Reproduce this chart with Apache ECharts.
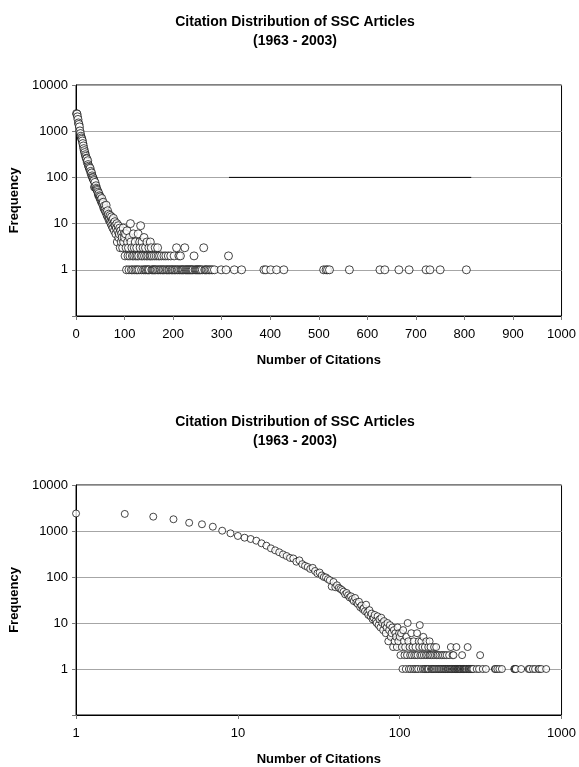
<!DOCTYPE html>
<html>
<head>
<meta charset="utf-8">
<script src="https://cdn.jsdelivr.net/npm/echarts@6/dist/echarts.min.js"></script>
<style>
  html, body { margin: 0; padding: 0; background: #fff; }
  #main { width: 579px; height: 767px; }
</style>
</head>
<body>
<div id="main"></div>
<script>
// frequency for 1..99 citations
var headFreq = [
  2400, 2350, 2050, 1800, 1510, 1400, 1240, 1015, 890, 780,
  715, 670, 615, 540, 480, 420, 380, 345, 310, 286,
  260, 253, 215, 230, 190, 175, 165, 150, 158, 135,
  120, 125, 108, 100, 98, 90, 85, 62, 78, 60,
  66, 58, 55, 52, 48, 42, 45, 40, 36, 38,
  33, 30, 35, 28, 26, 29, 22, 24, 20, 21,
  18, 25, 17, 15, 19, 14, 16, 12, 13, 15,
  11, 10, 14, 9, 12, 8, 13, 10, 7, 11,
  9, 6, 8, 10, 4, 7, 9, 5, 6, 8,
  3, 7, 4, 6, 5, 3, 8, 4, 6
];

// sparse tail (100 citations and up)
var tailCites = [
  100, 101, 102, 103, 104, 105, 106, 107, 108, 109,
  110, 111, 112, 113, 114, 115, 116, 117, 118, 119,
  120, 121, 122, 123, 124, 125, 126, 127, 128, 129,
  130, 131, 132, 133, 134, 135, 136, 137, 138, 139,
  140, 141, 142, 143, 144, 145, 146, 147, 148, 149,
  150, 151, 152, 153, 154, 155, 156, 157, 158,
  160, 161, 162, 163, 164, 165, 167, 168, 169,
  170, 172, 173, 175, 176, 178,
  180, 181, 183, 185, 186, 188,
  190, 191, 193, 195, 196, 198,
  200, 202, 203, 205, 207, 208,
  210, 212, 213, 215, 216, 218,
  220, 222, 224, 225, 227, 229,
  231, 233, 235, 237, 239,
  241, 243, 245, 247, 249,
  251, 253, 255, 257,
  260, 263, 265, 267, 269,
  272, 275, 278, 281, 285,
  299, 309, 314, 326, 341,
  387, 391, 401, 413, 428,
  510, 515, 518, 522, 563,
  626, 636, 665, 686, 721, 729, 750, 804
];
var tailFreq = [
  5, 2, 6, 3, 1, 7, 4, 2, 3, 1,
  5, 2, 10, 4, 1, 3, 2, 1, 6, 2,
  3, 1, 4, 2, 1, 3, 2, 1, 6, 2,
  1, 4, 3, 9, 2, 1, 4, 2, 3, 1,
  5, 2, 1, 3, 1, 2, 4, 1, 2, 1,
  3, 1, 2, 4, 2, 3, 1, 2, 1,
  1, 2, 1, 3, 1, 2, 1, 3, 2,
  1, 2, 1, 1, 2, 1,
  1, 2, 1, 2, 1, 1,
  2, 1, 1, 2, 1, 1,
  1, 2, 1, 1, 3, 1,
  1, 2, 1, 2, 1, 1,
  1, 1, 3, 1, 1, 1,
  1, 1, 1, 1, 1,
  1, 2, 1, 1, 1,
  1, 1, 1, 1,
  1, 3, 1, 1, 1,
  1, 1, 1, 1, 1,
  1, 1, 2, 1, 1,
  1, 1, 1, 1, 1,
  1, 1, 1, 1, 1,
  1, 1, 1, 1, 1, 1, 1, 1
];

// odd dark segment sitting on the 100 gridline of the top chart
var stubLine = [[315, 100], [814, 100]];

var xTicksLinear = [0, 1000, 100];   // min, max, step
var xTicksLog = [1, 1000];
var yTicks = [0.1, 10000];

var chartTitle = 'Citation Distribution of SSC Articles\n(1963 - 2003)';

var points = [];
for (var i = 0; i < headFreq.length; i++) {
  points.push([i + 1, headFreq[i]]);
}
for (var j = 0; j < tailCites.length; j++) {
  points.push([tailCites[j], tailFreq[j]]);
}

var font = 'Liberation Sans, Arial, sans-serif';

function yAxisFor(idx) {
  return {
    gridIndex: idx,
    type: 'log',
    logBase: 10,
    min: yTicks[0],
    max: yTicks[1],
    name: 'Frequency',
    nameLocation: 'middle',
    nameRotate: 90,
    nameGap: 50,
    nameTextStyle: { fontFamily: font, fontSize: 13, fontWeight: 'bold', color: '#000' },
    axisLine: { show: true, lineStyle: { color: '#000', width: 1 } },
    axisTick: { show: true, inside: false, length: 4, lineStyle: { color: '#777' } },
    axisLabel: {
      margin: 8,
      fontFamily: font, fontSize: 13, color: '#000',
      formatter: function (v) { return v < 0.5 ? '' : String(Math.round(v)); }
    },
    splitLine: { show: true, lineStyle: { color: '#a6a6a6', width: 1 } }
  };
}

function xAxisCommon(o) {
  o.name = 'Number of Citations';
  o.nameLocation = 'middle';
  o.nameGap = 38;
  o.nameTextStyle = { fontFamily: font, fontSize: 13, fontWeight: 'bold', color: '#000' };
  o.axisLine = { show: true, onZero: false, lineStyle: { color: '#000', width: 1 } };
  o.axisTick = { show: true, inside: false, length: 4, lineStyle: { color: '#777' } };
  o.axisLabel = {
    margin: 12, fontFamily: font, fontSize: 13, color: '#000',
    formatter: function (v) { return String(Math.round(v)); }
  };
  o.splitLine = { show: false };
  return o;
}

var titleStyle = { fontFamily: font, fontSize: 14, fontWeight: 'bold', color: '#000', lineHeight: 19 };

var option = {
  backgroundColor: '#fff',
  animation: false,
  title: [
    { text: chartTitle, left: 290, top: 8, textAlign: 'center', textStyle: titleStyle },
    { text: chartTitle, left: 290, top: 408, textAlign: 'center', textStyle: titleStyle }
  ],
  grid: [
    { left: 74, top: 85, width: 489, height: 231, show: true, borderColor: '#000', borderWidth: 1, backgroundColor: '#fff' },
    { left: 74, top: 485, width: 489, height: 231, show: true, borderColor: '#000', borderWidth: 1, backgroundColor: '#fff' }
  ],
  xAxis: [
    xAxisCommon({ gridIndex: 0, type: 'value', min: xTicksLinear[0], max: xTicksLinear[1], interval: xTicksLinear[2] }),
    xAxisCommon({ gridIndex: 1, type: 'log', logBase: 10, min: xTicksLog[0], max: xTicksLog[1] })
  ],
  yAxis: [yAxisFor(0), yAxisFor(1)],
  series: [
    {
      type: 'line',
      xAxisIndex: 0, yAxisIndex: 0,
      data: stubLine,
      symbol: 'none',
      lineStyle: { color: '#000', width: 1 },
      z: 1
    },
    {
      type: 'scatter',
      xAxisIndex: 0, yAxisIndex: 0,
      data: points,
      symbol: 'circle',
      symbolSize: 8,
      itemStyle: { color: '#fff', borderColor: '#000', borderWidth: 0.9 },
      z: 3
    },
    {
      type: 'scatter',
      xAxisIndex: 1, yAxisIndex: 1,
      data: points,
      symbol: 'circle',
      symbolSize: 7,
      itemStyle: { color: '#fff', borderColor: '#000', borderWidth: 0.9 },
      z: 3
    }
  ]
};

var chart = echarts.init(document.getElementById('main'), null, { renderer: 'canvas' });
chart.setOption(option);
</script>
</body>
</html>
